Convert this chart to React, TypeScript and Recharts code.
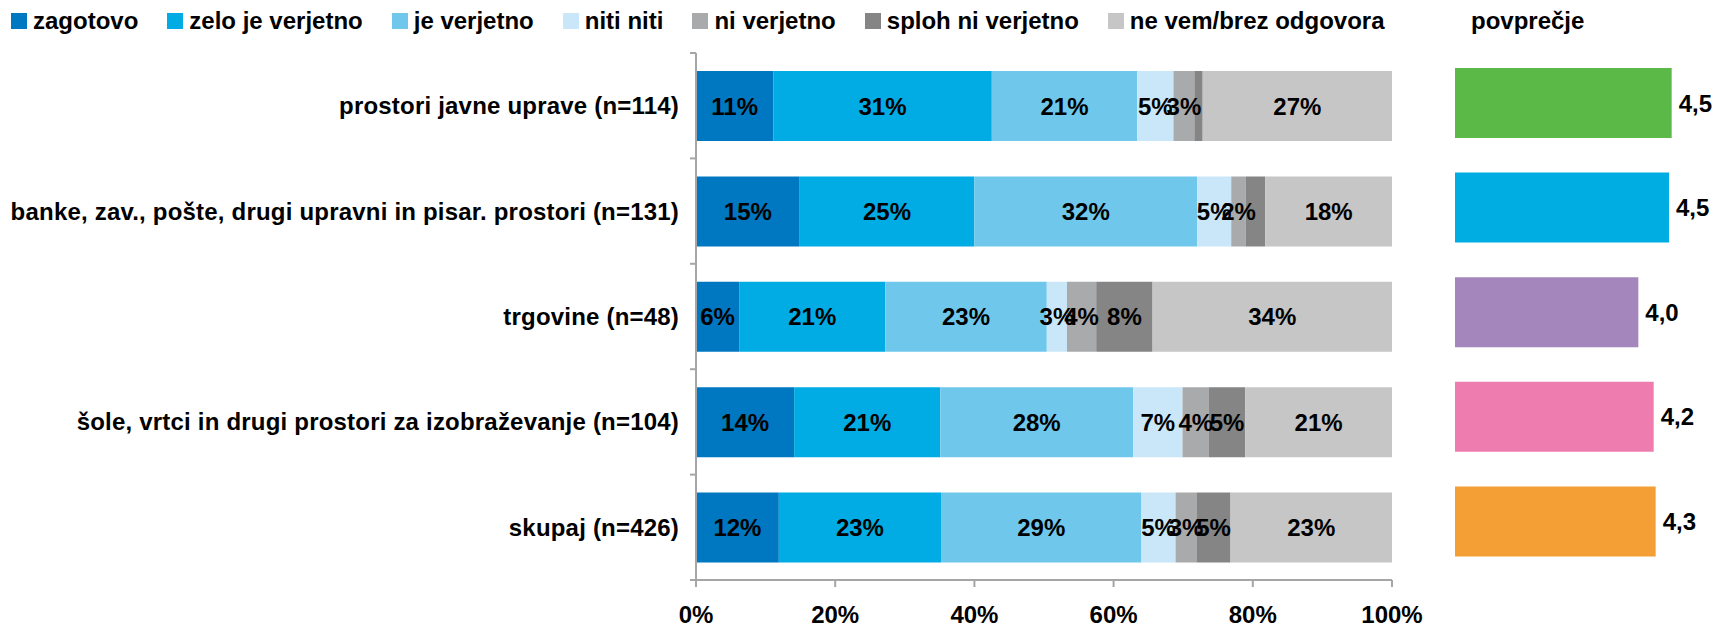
import { Bar, BarChart, Cell, LabelList, XAxis, YAxis } from "recharts";

const categories = [
  "prostori javne uprave (n=114)",
  "banke, zav., pošte, drugi upravni in pisar. prostori (n=131)",
  "trgovine (n=48)",
  "šole, vrtci in drugi prostori za izobraževanje (n=104)",
  "skupaj (n=426)",
];

// shares in %
const zagotovo = [11.1, 14.9, 6.2, 14.1, 11.9];
const zeloJeVerjetno = [31.4, 25.1, 21.0, 21.0, 23.3];
const jeVerjetno = [20.9, 32.0, 23.2, 27.7, 28.8];
const nitiNiti = [5.2, 4.9, 2.9, 7.1, 4.9];
const niVerjetno = [3.0, 2.1, 4.2, 3.8, 3.0];
const splohNiVerjetno = [1.2, 2.8, 8.1, 5.2, 4.9];
const neVem = [27.2, 18.2, 34.4, 21.1, 23.2];

// segments the original leaves without a data label
const unlabeled: Record<string, number[]> = { sploh: [0, 1] };

const povprecje = [4.5, 4.46, 4.0, 4.23, 4.26];
const povprecjeColors = ["#5bb947", "#00ade3", "#a485bc", "#ee7cae", "#f39f35"];

const percentTicks = [0, 20, 40, 60, 80, 100];

const series = [
  { key: "zagotovo", name: "zagotovo", color: "#0078c1", values: zagotovo },
  { key: "zelo", name: "zelo je verjetno", color: "#00ace3", values: zeloJeVerjetno },
  { key: "je", name: "je verjetno", color: "#6fc8ec", values: jeVerjetno },
  { key: "niti", name: "niti niti", color: "#c9e7f8", values: nitiNiti },
  { key: "ni", name: "ni verjetno", color: "#a9aaac", values: niVerjetno },
  { key: "sploh", name: "sploh ni verjetno", color: "#858585", values: splohNiVerjetno },
  { key: "nevem", name: "ne vem/brez odgovora", color: "#c6c6c6", values: neVem },
];

const rows = categories.map((name, i) => {
  const row: Record<string, string | number> = { name };
  series.forEach((s) => {
    row[s.key] = s.values[i];
    row[s.key + "Label"] = (unlabeled[s.key] || []).includes(i) ? "" : `${Math.round(s.values[i])}%`;
  });
  return row;
});

const avgRows = categories.map((name, i) => ({ name, value: povprecje[i] }));

const FONT = "'Liberation Sans', Arial, sans-serif";
const AXIS_GRAY = "#a6a6a6";
const Y_WIDTH = 696;
const PLOT_TOP = 53;
const PLOT_BOTTOM = 580;
const BAND = (PLOT_BOTTOM - PLOT_TOP) / categories.length;

function CategoryTick(props: any) {
  const { x, y, payload, index } = props;
  const last = index === categories.length - 1;
  return (
    <g>
      <line x1={Y_WIDTH - 6} x2={Y_WIDTH} y1={y - BAND / 2} y2={y - BAND / 2} stroke={AXIS_GRAY} strokeWidth={2} />
      {last && (
        <line x1={Y_WIDTH - 6} x2={Y_WIDTH} y1={y + BAND / 2} y2={y + BAND / 2} stroke={AXIS_GRAY} strokeWidth={2} />
      )}
      <text
        x={x}
        y={y}
        textAnchor="end"
        dominantBaseline="central"
        fill="#000"
        fontSize={24}
        fontWeight={700}
        fontFamily={FONT}
        letterSpacing={0.2}
      >
        {payload.value}
      </text>
    </g>
  );
}

export default function App() {
  return (
    <div style={{ position: "absolute", left: 0, top: 0, width: 1718, height: 628, background: "#fff", fontFamily: FONT }}>
      <div style={{ position: "absolute", left: 11, top: 8, display: "flex", alignItems: "center", gap: 29, fontSize: 24, fontWeight: 700, height: 26 }}>
        {series.map((s) => (
          <div key={s.key} style={{ display: "flex", alignItems: "center", gap: 6 }}>
            <span style={{ width: 16, height: 16, background: s.color, display: "inline-block" }} />
            <span>{s.name}</span>
          </div>
        ))}
      </div>
      <div style={{ position: "absolute", left: 1471, top: 8, height: 26, display: "flex", alignItems: "center", fontSize: 24, fontWeight: 700 }}>
        povprečje
      </div>

      <div style={{ position: "absolute", left: 0, top: 0 }}>
        <BarChart width={1440} height={628} data={rows} layout="vertical" margin={{ top: PLOT_TOP, right: 48, bottom: 0, left: 0 }}>
          <XAxis
            type="number"
            domain={[0, 100]}
            ticks={percentTicks}
            tickFormatter={(v) => `${v}%`}
            height={628 - PLOT_BOTTOM}
            axisLine={{ stroke: AXIS_GRAY, strokeWidth: 2 }}
            tickLine={{ stroke: AXIS_GRAY, strokeWidth: 2 }}
            tickSize={7}
            tickMargin={19}
            tick={{ fill: "#000", fontSize: 24, fontWeight: 700, fontFamily: FONT }}
          />
          <YAxis
            type="category"
            dataKey="name"
            width={Y_WIDTH}
            axisLine={{ stroke: AXIS_GRAY, strokeWidth: 2 }}
            tickLine={false}
            tickSize={6}
            tickMargin={11}
            tick={<CategoryTick />}
            interval={0}
          />
          {series.map((s) => (
            <Bar key={s.key} dataKey={s.key} name={s.name} stackId="a" fill={s.color} barSize={70} isAnimationActive={false}>
              <LabelList dataKey={s.key + "Label"} position="center" fill="#000" fontSize={24} fontWeight={700} fontFamily={FONT} />
            </Bar>
          ))}
        </BarChart>
      </div>

      <div style={{ position: "absolute", left: 1440, top: 0 }}>
        <BarChart width={278} height={628} data={avgRows} layout="vertical" margin={{ top: 51, right: 13, bottom: 54, left: 15 }}>
          <XAxis type="number" domain={[1.25, 5]} hide />
          <YAxis type="category" dataKey="name" hide width={0} />
          <Bar dataKey="value" barSize={70} isAnimationActive={false}>
            {avgRows.map((r, i) => (
              <Cell key={r.name} fill={povprecjeColors[i]} />
            ))}
            <LabelList
              dataKey="value"
              position="right"
              offset={7}
              formatter={(v: any) => Number(v).toFixed(1).replace(".", ",")}
              fill="#000"
              fontSize={24}
              fontWeight={700}
              fontFamily={FONT}
            />
          </Bar>
        </BarChart>
      </div>
    </div>
  );
}
